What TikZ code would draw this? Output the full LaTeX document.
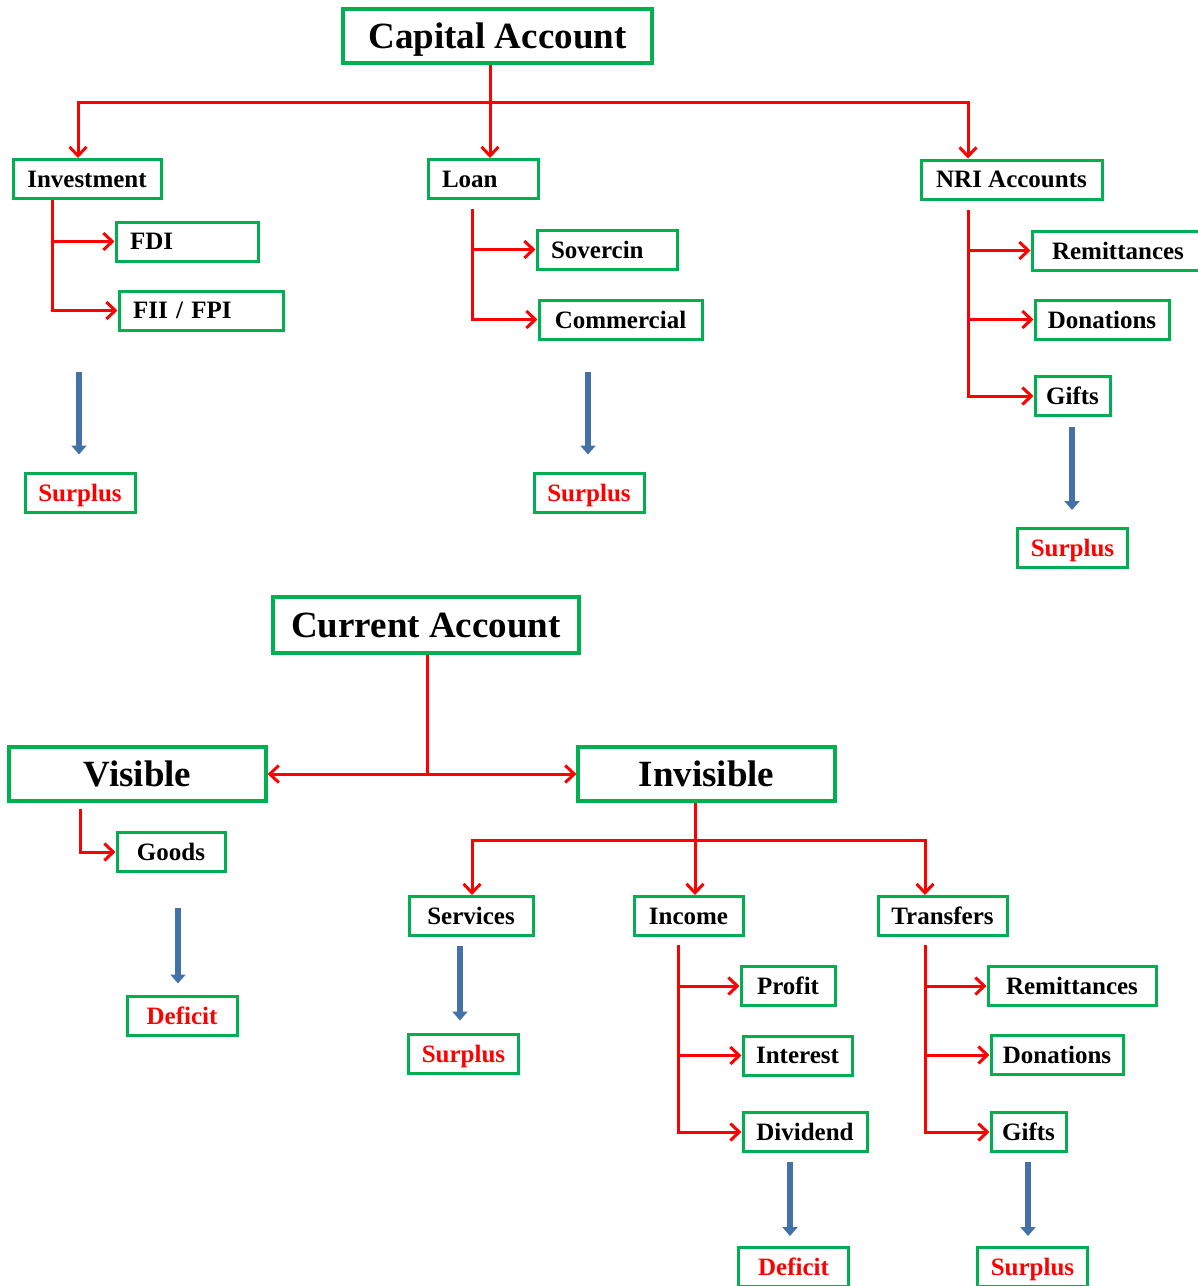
\documentclass[tikz,border=0pt]{standalone}
\usepackage{fontspec}
\setmainfont{Liberation Serif}
\usetikzlibrary{arrows.meta}
\usetikzlibrary{calc}
\usetikzlibrary{positioning}

\definecolor{boxgreen}{RGB}{0,176,80}
\definecolor{flowblue}{RGB}{68,114,168}

\begin{document}
\begin{tikzpicture}[
		x=1pt,y=-1pt,
		acct/.style={draw=boxgreen,line width=3.2pt,rectangle,inner sep=0pt,text depth=0pt,font=\fontsize{37}{40}\selectfont\bfseries},
		item/.style={draw=boxgreen,line width=3pt,rectangle,inner sep=0pt,text depth=0pt,minimum height=39pt,font=\fontsize{25}{28}\selectfont\bfseries},
		lefttext/.style={align=left,inner xsep=14pt,text width=#1},
		result/.style={item,text=red,minimum width=110pt},
		link/.style={draw=red,line width=3pt,-{Straight Barb[length=9pt,width=17pt]}},
		flow/.style={draw=flowblue,line width=5.5pt,-{Triangle[length=9pt,width=15pt]}}
	]
		\useasboundingbox (0,0) rectangle (1198,1286);

		% capital account
		\node [acct,minimum width=309pt,minimum height=54pt] (capital) at (497.5,36) {Capital Account};
		\node [item,minimum width=148pt] (invest) at (87,179) {Investment};
		\node [item,lefttext=82pt] (loan) at (483,179) {Loan};
		\node [item,minimum width=181pt] (nri) at (1011.5,179.5) {NRI Accounts};

		\node [item,lefttext=114pt] (fdi) at (187,241.5) {FDI};
		\node [item,lefttext=136pt] (fii) at (201,310.5) {FII / FPI};
		\node [item,lefttext=112pt] (sov) at (607,249.5) {Sovercin};
		\node [item,minimum width=163pt] (comm) at (620.5,319.5) {Commercial};
		\node [item,minimum width=172pt] (nrirem) at (1118,250.5) {Remittances};
		\node [item,minimum width=134pt] (nridon) at (1102,319.5) {Donations};
		\node [item,minimum width=75pt] (nrigift) at (1072.5,396) {Gifts};

		\node [result] (invsur) at (80,492.5) {Surplus};
		\node [result] (loansur) at (589,492.5) {Surplus};
		\node [result] (nrisur) at (1072.5,548) {Surplus};

		\coordinate (capjoin) at (490,102);
		\coordinate (invspine) at (52,0);
		\coordinate (loanspine) at (472,0);
		\coordinate (nrispine) at (968,0);

		\draw [link] (capital.south -| capjoin) -- (capjoin |- loan.north);
		\draw [link] (capjoin) -| ($(invest.north)+(-9,0)$);
		\draw [link] (capjoin) -| ($(nri.north)+(-43.5,0)$);

		\draw [link] (invest.south -| invspine) |- (fdi);
		\draw [link] (invest.south -| invspine) |- (fii);
		\draw [link] ($(loan.south -| loanspine)+(0,9)$) |- (sov);
		\draw [link] ($(loan.south -| loanspine)+(0,9)$) |- (comm);
		\draw [link] ($(nri.south -| nrispine)+(0,9)$) |- (nrirem);
		\draw [link] ($(nri.south -| nrispine)+(0,9)$) |- (nridon);
		\draw [link] ($(nri.south -| nrispine)+(0,9)$) |- (nrigift);

		\coordinate (invflow) at (79,372);
		\coordinate (loanflow) at (588,372);
		\coordinate (nriflow) at (1072,427);
		\draw [flow,shorten >=17pt] (invflow) -- (invflow |- invsur.north);
		\draw [flow,shorten >=17pt] (loanflow) -- (loanflow |- loansur.north);
		\draw [flow,shorten >=17pt] (nriflow) -- (nriflow |- nrisur.north);

		% current account
		\node [acct,minimum width=306pt,minimum height=56pt] (current) at (426,625) {Current Account};
		\node [acct,minimum width=257pt,minimum height=54pt] (visible) at (137.5,774) {Visible};
		\node [acct,minimum width=257pt,minimum height=54pt] (invisible) at (706.5,774) {Invisible};

		\node [item,minimum width=108pt] (goods) at (171,852) {Goods};
		\node [result] (visdef) at (182,1015.5) {Deficit};

		\node [item,minimum width=124pt] (services) at (471,916) {Services};
		\node [item,minimum width=109pt] (income) at (688.5,916) {Income};
		\node [item,minimum width=129pt] (transfers) at (942.5,916) {Transfers};
		\node [result] (servsur) at (463.5,1053.5) {Surplus};

		\node [item,minimum width=94pt] (profit) at (788,986) {Profit};
		\node [item,minimum width=109pt] (interest) at (797.5,1055.5) {Interest};
		\node [item,minimum width=124pt] (dividend) at (805,1132) {Dividend};
		\node [result] (incdef) at (793.5,1267) {Deficit};

		\node [item,minimum width=168pt] (trrem) at (1072,986) {Remittances};
		\node [item,minimum width=132pt] (trdon) at (1057,1055) {Donations};
		\node [item,minimum width=75pt] (trgift) at (1028.5,1132) {Gifts};
		\node [result] (trsur) at (1032.5,1267) {Surplus};

		\coordinate (curjoin) at (427,774);
		\coordinate (invbus) at (695,840);
		\coordinate (visspine) at (80,0);
		\coordinate (incspine) at (678,0);
		\coordinate (trspine) at (925,0);

		\draw [draw=red,line width=3pt] (current.south -| curjoin) -- (curjoin);
		\draw [link] (curjoin) -- (visible.east);
		\draw [link] (curjoin) -- (invisible.west);

		\draw [link] ($(visible.south -| visspine)+(0,6)$) |- (goods);

		\draw [link] (invisible.south -| invbus) -- (invbus |- income.north);
		\draw [link] (invbus) -| ($(services.north)+(1,0)$);
		\draw [link] (invbus) -| ($(transfers.north)+(-17.5,0)$);

		\draw [link] ($(income.south -| incspine)+(0,8)$) |- (profit);
		\draw [link] ($(income.south -| incspine)+(0,8)$) |- (interest);
		\draw [link] ($(income.south -| incspine)+(0,8)$) |- (dividend);
		\draw [link] ($(transfers.south -| trspine)+(0,8)$) |- (trrem);
		\draw [link] ($(transfers.south -| trspine)+(0,8)$) |- (trdon);
		\draw [link] ($(transfers.south -| trspine)+(0,8)$) |- (trgift);

		\coordinate (visflow) at (178,908);
		\coordinate (servflow) at (460,946);
		\coordinate (incflow) at (790,1162);
		\coordinate (trflow) at (1028,1162);
		\draw [flow,shorten >=11pt] (visflow) -- (visflow |- visdef.north);
		\draw [flow,shorten >=12pt] (servflow) -- (servflow |- servsur.north);
		\draw [flow,shorten >=10pt] (incflow) -- (incflow |- incdef.north);
		\draw [flow,shorten >=10pt] (trflow) -- (trflow |- trsur.north);
	\end{tikzpicture}
\end{document}
